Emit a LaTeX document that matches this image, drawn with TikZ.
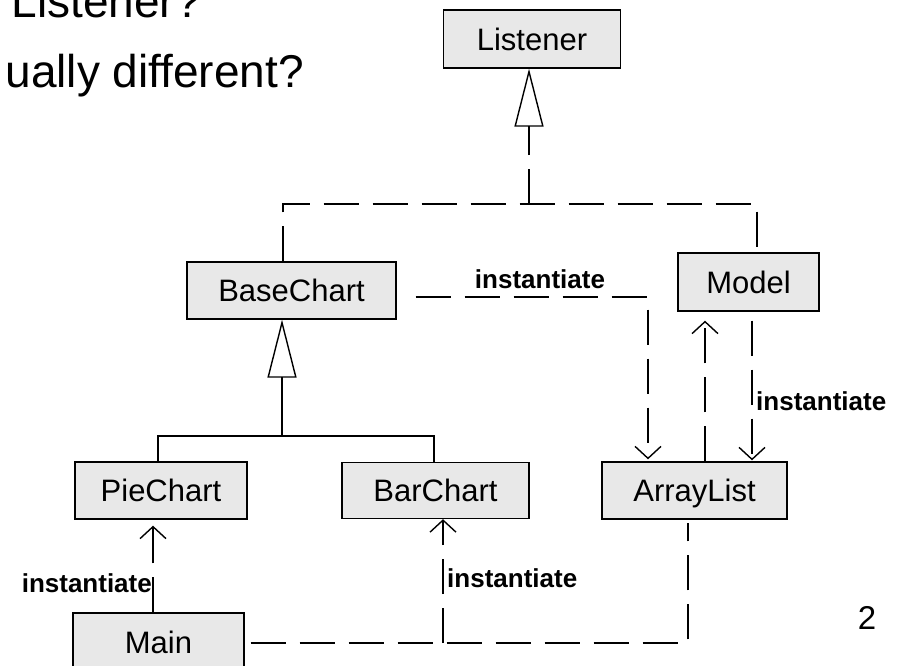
\documentclass[tikz,border=0pt]{standalone}
\usepackage{fontspec}
\setmainfont{Liberation Sans}
\usetikzlibrary{arrows.meta}
\definecolor{boxfill}{RGB}{232,232,232}
\begin{document}
\begin{tikzpicture}[x=1pt,y=-1pt,
  cls/.style={draw, line width=1.4pt, fill=boxfill, inner sep=0pt,
    font=\fontsize{31}{31}\selectfont, text height=22pt, text depth=0pt},
  dep/.style={line width=1.4pt, dash pattern=on 35pt off 14pt},
  solidline/.style={line width=1.4pt},
  barb/.style={-{Straight Barb[length=12pt,width=26pt]}},
  gen/.style={-{Triangle[open,length=58pt,width=29pt]}},
  lbl/.style={font=\bfseries\fontsize{26}{26}\selectfont, inner sep=0pt},
  heading/.style={font=\fontsize{46}{46}\selectfont, inner sep=0pt}
]
\useasboundingbox (0,0) rectangle (909,665);

% slide text
\node[heading, anchor=base east] (t1) at (201,17) {Listener?};
\node[heading, anchor=base east] (t2) at (304,87.5) {ually different?};
\node[font=\fontsize{33}{33}\selectfont, inner sep=0pt, anchor=base] (pg) at (867,629) {2};

% classes
\node[cls, minimum width=177pt, minimum height=58pt] (listener) at (532,39) {Listener};
\node[cls, minimum width=209pt, minimum height=57pt] (base) at (291.5,290.5) {BaseChart};
\node[cls, minimum width=141pt, minimum height=58pt] (model) at (748.5,282) {Model};
\node[cls, minimum width=172pt, minimum height=57pt] (pie) at (161,490.5) {PieChart};
\node[cls, minimum width=187pt, minimum height=56pt] (bar) at (435.5,490.5) {BarChart};
\node[cls, minimum width=185pt, minimum height=57pt] (array) at (694.5,490.5) {ArrayList};
\node[cls, minimum width=171pt, minimum height=58pt] (main) at (158.5,642) {Main};

% realization of Listener
\coordinate (jl) at (529,204);
\draw[dep] ([xshift=-8.5pt]base.north) |- (jl) -| ([xshift=8.5pt]model.north);
\draw[dep, gen] (jl) -- (jl |- listener.south);

% inheritance from BaseChart
\coordinate (jb) at (282,436);
\draw[solidline, gen] (jb) -- (jb |- base.south);
\draw[solidline] ([xshift=-3pt]pie.north) |- (jb) -| ([xshift=-1.5pt]bar.north);

% instantiate dependencies
\draw[dep, barb] ([shift={(19,6.5)}]base.east) -| ([shift={(-46.5,-2)}]array.north);
\node[lbl, anchor=base] (l1) at (540,288) {instantiate};

\draw[dep, barb] ([shift={(3.5,9)}]model.south) -- ([shift={(57.5,-1)}]array.north);
\node[lbl, anchor=base west] (l2) at (756,410) {instantiate};

\draw[dep, barb] ([xshift=10.5pt]array.north) -- ([shift={(-43.5,9)}]model.south);

\draw[dep, barb] ([xshift=-5.5pt]main.north) -- ([shift={(-8,6)}]pie.south);
\node[lbl, anchor=base east] (l3) at (152,592) {instantiate};

\coordinate (jm) at (443,643);
\draw[dep] ([shift={(6,1)}]main.east) -- (jm) -| ([shift={(-6.5,3)}]array.south);
\draw[dep, barb] (jm) -- ([xshift=7.5pt]bar.south);
\node[lbl, anchor=base west] (l4) at (447,587) {instantiate};
\end{tikzpicture}
\end{document}
